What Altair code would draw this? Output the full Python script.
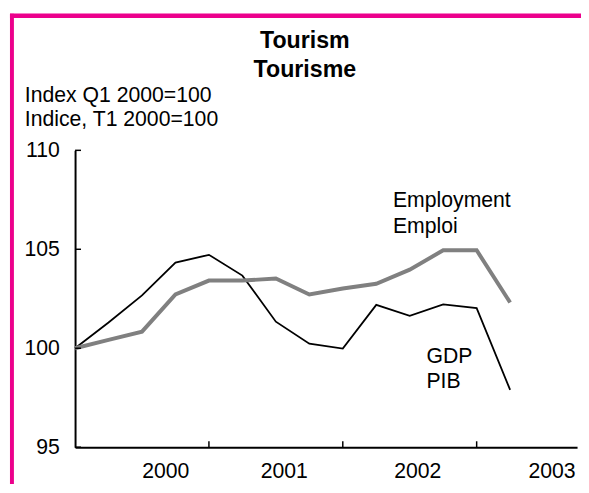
import altair as alt
import pandas as pd

# ---- data ----
quarters = list(range(14))  # 0 = Q1 2000 ... 13 = Q2 2003
gdp = [100, 101.3, 102.67, 104.33, 104.72, 103.67, 101.34, 100.23, 99.98,
       102.19, 101.64, 102.22, 102.03, 97.9]
employment = [100, 100.42, 100.84, 102.72, 103.42, 103.42, 103.52, 102.72,
              103.02, 103.26, 103.97, 104.95, 104.95, 102.31]
y_ticks = [95, 100, 105, 110]
x_tick_quarters = [4, 8, 12]
year_labels = ["2000", "2001", "2002", "2003"]
year_label_pos = [2.71, 6.25, 10.24, 14.25]
series_labels = ["Employment", "Emploi", "GDP", "PIB"]
series_label_t = [9.5, 9.5, 10.5, 10.5]
series_label_v = [107.16, 105.81, 99.24, 97.99]
title_lines = ["Tourism", "Tourisme"]
unit_lines = ["Index Q1 2000=100", "Indice, T1 2000=100"]

# ---- layout / style ----
W, H = 509, 301
FONT = "Liberation Sans"
PINK = "#EC008C"
FS = 21.5

xs = alt.Scale(domain=[0, 15], nice=False, zero=False)
ys = alt.Scale(domain=[95, 110], nice=False, zero=False)
X_AX = alt.Axis(labels=False, ticks=False, grid=False, title=None,
                domainColor="black", domainWidth=2)
Y_AX = alt.Axis(values=y_ticks, ticks=False, grid=False, title=None,
                labelFont=FONT, labelFontSize=FS, labelColor="black",
                labelPadding=16, domainColor="black", domainWidth=2)

df_gdp = pd.DataFrame({"t": quarters, "v": gdp})
df_emp = pd.DataFrame({"t": quarters, "v": employment})
df_yt = pd.DataFrame({"v": y_ticks})
df_xt = pd.DataFrame({"t": x_tick_quarters})
df_xl = pd.DataFrame({"t": year_label_pos, "label": year_labels})
df_sl = pd.DataFrame({"t": series_label_t, "v": series_label_v, "label": series_labels})
one = pd.DataFrame({"a": [0]})

gdp_line = alt.Chart(df_gdp).mark_line(color="black", strokeWidth=1.8).encode(
    x=alt.X("t:Q", scale=xs, axis=X_AX),
    y=alt.Y("v:Q", scale=ys, axis=Y_AX),
)

emp_line = alt.Chart(df_emp).mark_line(color="#808080", strokeWidth=4).encode(
    x=alt.X("t:Q", scale=xs, axis=X_AX),
    y=alt.Y("v:Q", scale=ys, axis=Y_AX),
)

y_tick_marks = alt.Chart(df_yt).mark_rule(color="black", strokeWidth=1.5).encode(
    y=alt.Y("v:Q", scale=ys, axis=Y_AX),
    x=alt.value(0), x2=alt.value(6),
)

x_tick_marks = alt.Chart(df_xt).mark_rule(color="black", strokeWidth=1.5).encode(
    x=alt.X("t:Q", scale=xs, axis=X_AX),
    y=alt.value(H), y2=alt.value(H - 6),
)

x_labels = alt.Chart(df_xl).mark_text(font=FONT, fontSize=FS, align="center",
                                       baseline="alphabetic", color="black").encode(
    x=alt.X("t:Q", scale=xs, axis=X_AX),
    y=alt.value(332),
    text="label:N",
)

series_text = alt.Chart(df_sl).mark_text(font=FONT, fontSize=FS, align="left",
                                          baseline="alphabetic", color="black").encode(
    x=alt.X("t:Q", scale=xs, axis=X_AX),
    y=alt.Y("v:Q", scale=ys, axis=Y_AX),
    text="label:N",
)

title_text = alt.Chart(one).mark_text(font=FONT, fontSize=23.5, fontWeight="bold", align="center",
                                       baseline="alphabetic", lineHeight=30, color="black").encode(
    x=alt.value(233), y=alt.value(-104), text=alt.value(title_lines),
)

unit_text = alt.Chart(one).mark_text(font=FONT, fontSize=FS, align="left",
                                      baseline="alphabetic", lineHeight=24, color="black").encode(
    x=alt.value(-51), y=alt.value(-49), text=alt.value(unit_lines),
)

border_top = alt.Chart(one).mark_rule(color=PINK, strokeWidth=4.5).encode(
    x=alt.value(-66), x2=alt.value(520), y=alt.value(-136.5),
)
border_left = alt.Chart(one).mark_rule(color=PINK, strokeWidth=4).encode(
    x=alt.value(-64), y=alt.value(-138.5), y2=alt.value(345),
)

chart = alt.layer(
    gdp_line, emp_line, y_tick_marks, x_tick_marks,
    x_labels, series_text, title_text, unit_text, border_top, border_left,
).properties(
    width=W, height=H,
    autosize=alt.AutoSizeParams(type="none"),
    padding={"left": 68, "top": 141, "right": 4, "bottom": 34},
    background="white",
).configure_view(stroke=None)

chart.save("out.html", embed_options={"renderer": "svg", "actions": False})
